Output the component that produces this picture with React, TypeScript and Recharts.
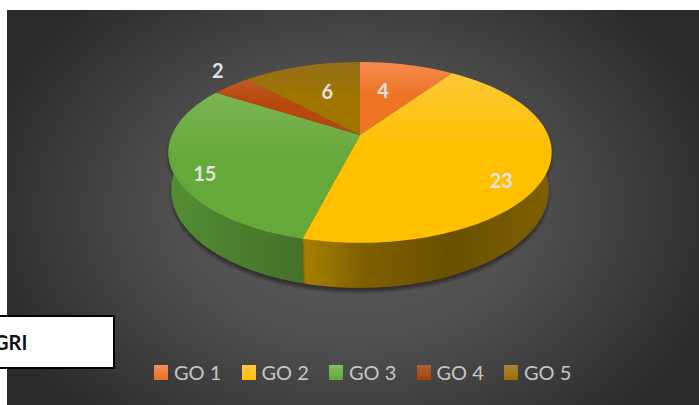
import { PieChart, Pie, Legend } from "recharts";

const categories = ["GO 1", "GO 2", "GO 3", "GO 4", "GO 5"];
const values = [4, 23, 15, 2, 6];

const topColors = [
  ["#f58a4e", "#ee7428"],
  ["#fcc838", "#ffc000"],
  ["#7cb554", "#66a93a"],
  ["#bd5a2a", "#b84608"],
  ["#93701a", "#a07400"],
];
const wallColors = [
  ["#8a4a1c", "#8a4a1c", "#8a4a1c", "#8a4a1c"],
  ["#a88000", "#7e5f00", "#6a5000", "#7f6000"],
  ["#548f30", "#4f8730", "#4a7c2c", "#44712a"],
  ["#6e2f08", "#6e2f08", "#6e2f08", "#6e2f08"],
  ["#6a5000", "#6a5000", "#6a5000", "#6a5000"],
];
const legendColors = [
  ["#f0905e", "#ed6d1c"],
  ["#ffc94a", "#ffc000"],
  ["#84bd60", "#60a536"],
  ["#b0603c", "#a04000"],
  ["#ab8236", "#996f00"],
];

// label placement on the disc: radius fraction and angle nudge per slice
const labelRadius = [0.59, 0.83, 0.86, 1.24, 0.59];
const labelNudge = [-1, 13, -6, 5, 2.6];
const wallStops = [0, 0.25, 0.6, 1];

const chartData = categories.map((name, i) => ({
  name,
  value: values[i],
  index: i,
}));

// perspective of the tilted disc
const K = 0.193;
const SQUASH = 0.4628;
const DEPTH = 36.3;

function project(deg: number, r: number, cx: number, cy: number, rad: number) {
  const t = (deg * Math.PI) / 180;
  const warped = t + (12 * Math.PI * Math.max(0, Math.sin(t))) / 180;
  const u = Math.sin(warped) * r;
  const v = Math.cos(warped) * r;
  const d = 1 + K * v;
  return { x: cx + (rad * u) / d, y: cy - (rad * SQUASH * v) / d, d };
}

function arcPoints(start: number, end: number) {
  const pts: number[] = [];
  const steps = Math.max(2, Math.ceil((end - start) / 2));
  for (let i = 0; i <= steps; i++) pts.push(start + ((end - start) * i) / steps);
  return pts;
}

function TopSlice(props: any) {
  const { cx, cy, outerRadius, startAngle, endAngle, payload } = props;
  const pts = arcPoints(90 - startAngle, 90 - endAngle).map((a) =>
    project(a, 1, cx, cy, outerRadius)
  );
  const d =
    `M${cx},${cy} ` + pts.map((p) => `L${p.x},${p.y}`).join(" ") + " Z";
  return <path d={d} fill={`url(#top${payload.index})`} filter="url(#soft)" />;
}

function WallSlice(props: any) {
  const { cx, cy, outerRadius, startAngle, endAngle, payload } = props;
  const pts = arcPoints(90 - startAngle, 90 - endAngle).map((a) =>
    project(a, 1, cx, cy, outerRadius)
  );
  const lower = pts
    .map((p) => ({
      x: cx + (p.x - cx) * 0.985,
      y: p.y + DEPTH / p.d,
    }))
    .reverse();
  const d =
    "M" +
    pts
      .concat(lower as any)
      .map((p) => `${p.x},${p.y}`)
      .join(" L") +
    " Z";
  return <path d={d} fill={`url(#wall${payload.index})`} filter="url(#halo)" />;
}

function renderLabel(props: any) {
  const { cx, cy, outerRadius, payload, startAngle, endAngle } = props;
  const i = payload.index;
  const mid = 90 - (startAngle + endAngle) / 2 + labelNudge[i];
  const t = (mid * Math.PI) / 180;
  const r = labelRadius[i];
  const u = Math.sin(t) * r;
  const v = Math.cos(t) * r;
  const d = 1 + K * v;
  return (
    <text
      x={cx + (outerRadius * u) / d}
      y={cy - (outerRadius * SQUASH * v) / d}
      fill="#e2e2e2"
      fontFamily="Lato"
      fontWeight={700}
      fontSize={20}
      textAnchor="middle"
      dominantBaseline="central"
    >
      {payload.value}
    </text>
  );
}

function LegendRow({ payload }: any) {
  const items = (payload || []).filter(
    (entry: any) => entry.type !== "none" && categories.includes(entry.value)
  );
  const seen = new Set<string>();
  const unique = items.filter((entry: any) => {
    if (seen.has(entry.value)) return false;
    seen.add(entry.value);
    return true;
  });
  return (
    <div style={{ display: "flex" }}>
      {unique.map((entry: any) => {
        const c = legendColors[categories.indexOf(entry.value)];
        return (
          <div
            key={entry.value}
            style={{ width: 87.5, display: "flex", alignItems: "center" }}
          >
            <span
              style={{
                width: 14,
                height: 15,
                marginRight: 6,
                background: `linear-gradient(${c[0]}, ${c[1]})`,
              }}
            />
            <span
              style={{
                fontFamily: "Lato",
                fontSize: 20,
                color: "#c6c6c6",
                lineHeight: "24px",
              }}
            >
              {entry.value}
            </span>
          </div>
        );
      })}
    </div>
  );
}

export default function App() {
  return (
    <div
      style={{
        position: "fixed",
        left: 0,
        top: 0,
        width: 699,
        height: 405,
        background: "#fff",
        overflow: "hidden",
      }}
    >
      <div
        style={{
          position: "absolute",
          left: 7,
          top: 10,
          width: 692,
          height: 395,
          background:
            "radial-gradient(ellipse 390px 290px at 346px 200px, #5c5c5c 0%, #505050 45%, #2a2a2a 100%)",
        }}
      />
      <div style={{ position: "absolute", left: 0, top: 0 }}>
        <PieChart
          width={699}
          height={405}
          margin={{ top: 0, right: 0, bottom: 0, left: 0 }}
        >
          <defs>
            {topColors.map((c, i) => (
              <linearGradient key={i} id={`top${i}`} x1="0" y1="0" x2="0" y2="1">
                <stop offset="0" stopColor={c[0]} />
                <stop offset="0.45" stopColor={c[1]} />
              </linearGradient>
            ))}
            {wallColors.map((c, i) => (
              <linearGradient key={i} id={`wall${i}`} x1="0" y1="0" x2="1" y2="0">
                {c.map((col, j) => (
                  <stop key={j} offset={wallStops[j]} stopColor={col} />
                ))}
              </linearGradient>
            ))}
            <filter id="soft" x="-5%" y="-5%" width="110%" height="110%">
              <feGaussianBlur stdDeviation="0.5" />
            </filter>
            <filter id="halo" x="-10%" y="-10%" width="120%" height="120%">
              <feDropShadow
                dx="0"
                dy="4"
                stdDeviation="1.5"
                floodColor="#1c1414"
                floodOpacity="0.6"
              />
            </filter>
          </defs>
          <Pie
            data={chartData}
            dataKey="value"
            nameKey="name"
            cx={360}
            cy={135}
            outerRadius={188}
            startAngle={90}
            endAngle={-270}
            stroke="none"
            legendType="none"
            shape={WallSlice}
            isAnimationActive={false}
          />
          <Pie
            data={chartData}
            dataKey="value"
            nameKey="name"
            cx={360}
            cy={135}
            outerRadius={188}
            startAngle={90}
            endAngle={-270}
            stroke="none"
            shape={TopSlice}
            label={renderLabel}
            labelLine={false}
            isAnimationActive={false}
          />
          <Legend
            content={<LegendRow />}
            wrapperStyle={{ left: 154, top: 360, width: 440, bottom: "auto" }}
          />
        </PieChart>
      </div>
      <div
        style={{
          position: "absolute",
          left: -20,
          top: 315,
          width: 131,
          height: 50,
          background: "#fff",
          border: "2px solid #000",
          fontFamily: "Lato",
          fontWeight: 700,
          fontSize: 20,
          lineHeight: "50px",
          color: "#111",
          boxSizing: "content-box",
        }}
      >
        <span style={{ position: "absolute", left: 12 }}>GRI</span>
      </div>
    </div>
  );
}
